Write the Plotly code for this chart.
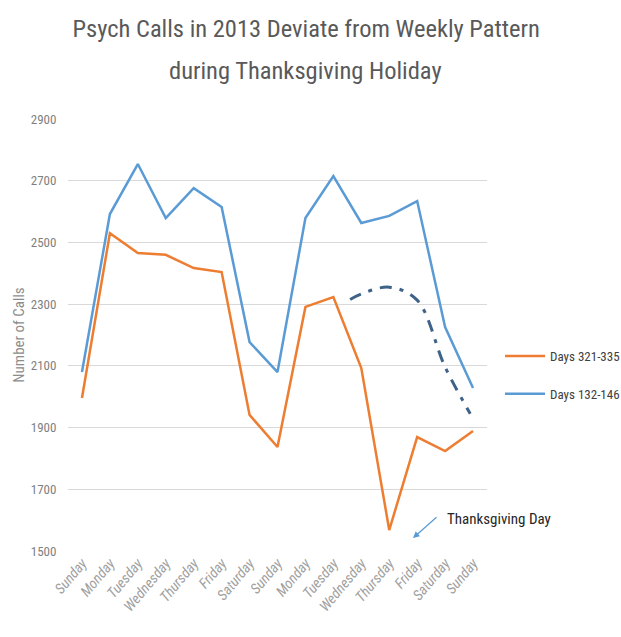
import plotly.graph_objects as go

days = ["Sunday", "Monday", "Tuesday", "Wednesday", "Thursday", "Friday", "Saturday",
        "Sunday", "Monday", "Tuesday", "Wednesday", "Thursday", "Friday", "Saturday", "Sunday"]
x_idx = list(range(len(days)))
days_321_335 = [1996, 2530, 2466, 2460, 2417, 2404, 1941, 1837, 2291, 2323, 2093, 1568, 1869, 1824, 1889]
days_132_146 = [2080, 2592, 2754, 2579, 2676, 2615, 2177, 2080, 2579, 2715, 2563, 2586, 2634, 2226, 2028]
expected_x = [9.6, 10, 11, 12, 13, 13.9]
expected_vals = [2315, 2333, 2355, 2313, 2096, 1945]

FONT = "Liberation Sans Narrow, Roboto Condensed, Arial Narrow, Liberation Sans, sans-serif"

fig = go.Figure()
fig.add_trace(go.Scatter(x=x_idx, y=days_321_335, mode="lines", name="Days 321-335",
                         line=dict(color="#ED7D31", width=2.5), legendgroup="a"))
fig.add_trace(go.Scatter(x=x_idx, y=days_132_146, mode="lines", name="Days 132-146",
                         line=dict(color="#5B9BD5", width=2.5), legendgroup="b"))
fig.add_trace(go.Scatter(x=expected_x, y=expected_vals, mode="lines", showlegend=False,
                         line=dict(color="#3F6289", width=3, dash="12px,8px,4px,8px", shape="spline")))

fig.add_annotation(x=13.0, y=1605, text="Thanksgiving Day", showarrow=False, xanchor="left",
                   font=dict(family=FONT, size=15, color="#262626"))
fig.add_annotation(x=11.85, y=1542, text="", showarrow=True, arrowhead=2, arrowsize=1,
                   arrowwidth=1.3, arrowcolor="#5B9BD5", ax=25, ay=-22)
fig.add_annotation(xref="paper", yref="paper", x=0.567, y=(551 - 70) / 432, yanchor="middle",
                   text="during Thanksgiving Holiday", showarrow=False,
                   font=dict(family=FONT, size=24.5, color="#595959"))

fig.update_layout(
    width=621, height=637,
    margin=dict(l=68, r=134, t=119, b=86, autoexpand=False),
    paper_bgcolor="white", plot_bgcolor="white",
    title=dict(text="Psych Calls in 2013 Deviate from Weekly Pattern",
               x=0.493, xanchor="center", y=1 - 28 / 637, yanchor="middle",
               font=dict(family=FONT, size=24.5, color="#595959")),
    showlegend=True,
    legend=dict(xref="container", yref="container", x=500 / 621, y=1 - 375 / 637,
                xanchor="left", yanchor="middle", tracegroupgap=18, itemwidth=40,
                font=dict(family=FONT, size=13, color="#404040"), bgcolor="rgba(0,0,0,0)"),
    xaxis=dict(range=[-0.5, 14.5], tickvals=x_idx, ticktext=["<i>%s</i>" % d for d in days],
               tickangle=-50, showgrid=False, zeroline=False, showline=False, ticks="",
               tickfont=dict(family=FONT, size=14.5, color="#A0A0A0")),
    yaxis=dict(range=[1500, 2900], dtick=200, tick0=1500, showgrid=True, gridcolor="#D9D9D9",
               gridwidth=1.2, zeroline=False, showline=False,
               ticks="outside", ticklen=8, tickcolor="rgba(0,0,0,0)",
               title=dict(text="Number of Calls", font=dict(family=FONT, size=15, color="#8C8C8C"), standoff=2),
               tickfont=dict(family=FONT, size=13, color="#7F7F7F")),
)

fig.write_html("out.html", post_script="document.body.style.margin='0';",
               config={"displayModeBar": False})
